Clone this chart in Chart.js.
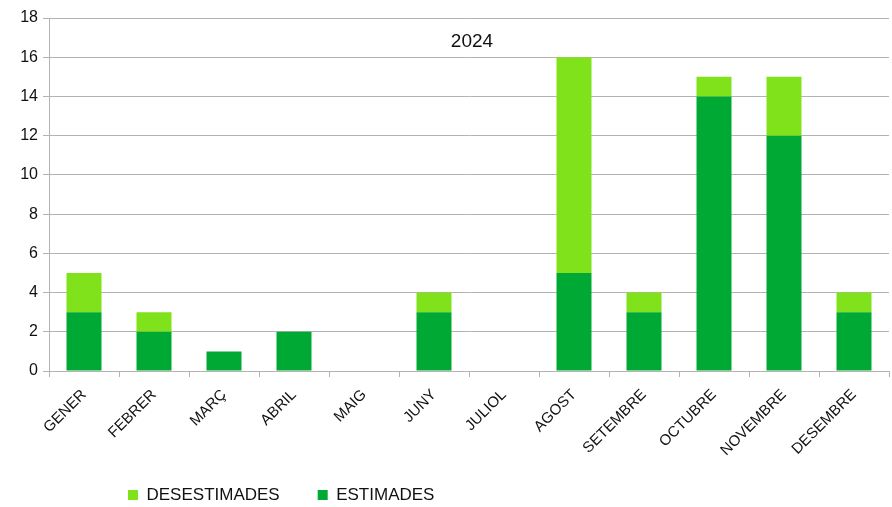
<!DOCTYPE html>
<html>
<head>
<meta charset="utf-8">
<script src="https://cdn.jsdelivr.net/npm/chart.js@4/dist/chart.umd.min.js"></script>
<style>
  html, body { margin: 0; padding: 0; background: #fff; }
  #wrap { width: 892px; height: 507px; }
</style>
</head>
<body>
<div id="wrap"><canvas id="chart"></canvas></div>
<script>
// Months (Catalan) and counts per series
const months = ['GENER', 'FEBRER', 'MARÇ', 'ABRIL', 'MAIG', 'JUNY', 'JULIOL', 'AGOST', 'SETEMBRE', 'OCTUBRE', 'NOVEMBRE', 'DESEMBRE'];
const estimades = [3, 2, 1, 2, 0, 3, 0, 5, 3, 14, 12, 3];
const desestimades = [2, 1, 0, 0, 0, 1, 0, 11, 1, 1, 3, 1];
const yTicks = [0, 2, 4, 6, 8, 10, 12, 14, 16, 18];
const chartTitle = '2024';

const FONT = '"Liberation Sans", Arial, sans-serif';
const LEGEND_PAD = 38;
const LEGEND_FONT = 17;

// title sits inside the plot area, so draw it ourselves
const innerTitle = {
    id: 'innerTitle',
    afterDraw(chart) {
        const { ctx, chartArea } = chart;
        ctx.save();
        ctx.font = '19px ' + FONT;
        ctx.fillStyle = '#111';
        ctx.textAlign = 'center';
        ctx.textBaseline = 'middle';
        ctx.fillText(chartTitle, (chartArea.left + chartArea.right) / 2 + 3, 42);
        ctx.restore();
    }
};

// move the legend where the original has it (legend clips to its box, so make the box big enough)
const legendShift = {
    id: 'legendShift',
    beforeDraw(chart) {
        const l = chart.legend;
        const w = l.right - l.left;
        l.left = 128 - LEGEND_PAD;
        l.right = l.left + w;
        l.top = 495 - LEGEND_PAD - LEGEND_FONT / 2;
        l.bottom = chart.height;
    }
};

new Chart(document.getElementById('chart'), {
    type: 'bar',
    data: {
        labels: months,
        datasets: [
            {
                label: 'ESTIMADES',
                data: estimades,
                backgroundColor: '#00a933',
                barPercentage: 0.5,
                categoryPercentage: 1.0
            },
            {
                label: 'DESESTIMADES',
                data: desestimades,
                backgroundColor: '#7fe21a',
                barPercentage: 0.5,
                categoryPercentage: 1.0
            }
        ]
    },
    options: {
        responsive: true,
        maintainAspectRatio: false,
        animation: false,
        layout: { padding: { top: 18, right: 3, left: 0, bottom: 0 } },
        scales: {
            x: {
                stacked: true,
                grid: { drawOnChartArea: false, color: '#b3b3b3', tickLength: 6, offset: true },
                border: { color: '#b3b3b3' },
                ticks: {
                    color: '#111',
                    font: { family: FONT, size: 15 },
                    maxRotation: 45,
                    minRotation: 45,
                    padding: 9
                },
                afterFit(scale) { scale.height = 100; }
            },
            y: {
                stacked: true,
                min: 0,
                max: 18,
                afterBuildTicks(scale) { scale.ticks = yTicks.map(v => ({ value: v })); },
                grid: { color: '#b3b3b3', tickLength: 6 },
                border: { color: '#b3b3b3' },
                ticks: {
                    color: '#111',
                    font: { family: FONT, size: 16 },
                    padding: 5
                },
                afterFit(scale) { scale.width = 49; }
            }
        },
        plugins: {
            title: { display: false },
            tooltip: { enabled: false },
            legend: {
                position: 'bottom',
                align: 'start',
                reverse: true,
                maxHeight: 36,
                labels: {
                    color: '#111',
                    font: { family: FONT, size: LEGEND_FONT },
                    boxWidth: 10,
                    boxHeight: 10,
                    padding: LEGEND_PAD
                }
            }
        }
    },
    plugins: [innerTitle, legendShift]
});
</script>
</body>
</html>
